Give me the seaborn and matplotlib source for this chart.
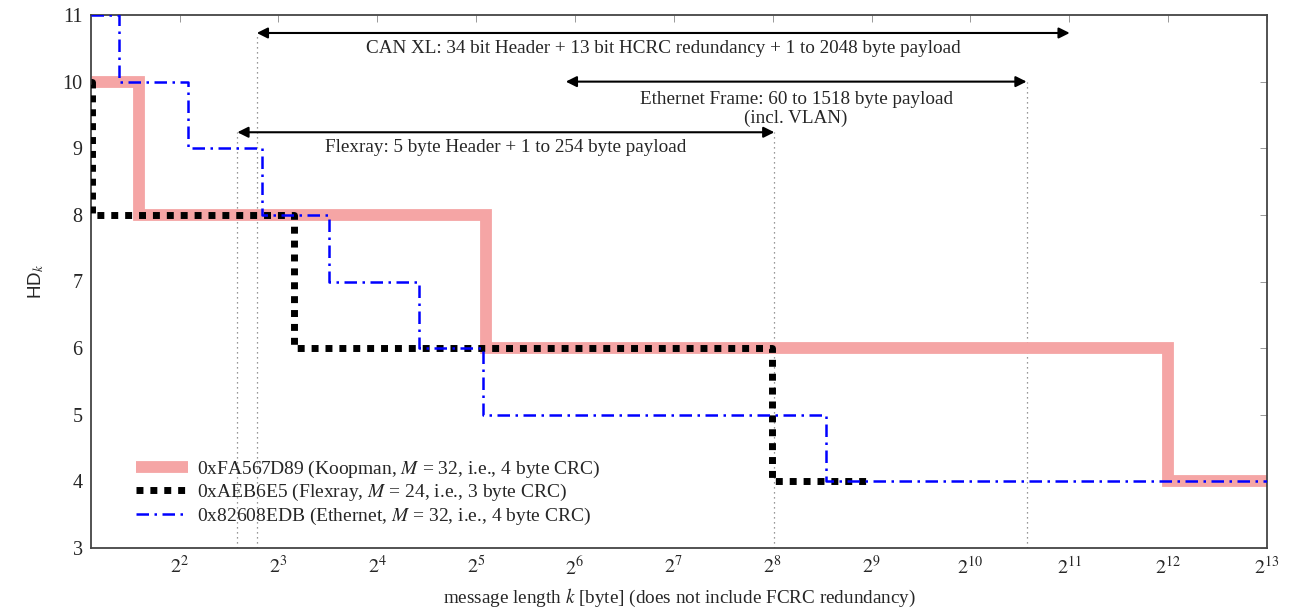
import numpy as np
import pandas as pd
import matplotlib
matplotlib.use("Agg")
import matplotlib.pyplot as plt
import seaborn as sns

# ---------------- data (message length k in bytes, HD) ----------------
koop_k = [2.15, 3.0, 34.25, 4092.0, 8192.0]
koop_hd = [10, 8, 6, 4, 4]

flex_k = [2.15, 2.17, 8.9, 255.0, 500.0]
flex_hd = [10, 8, 6, 4, 4]

eth_k = [2.15, 2.625, 4.25, 7.125, 11.375, 21.375, 33.5, 371.75, 8192.0]
eth_hd = [11, 10, 9, 8, 7, 6, 5, 4, 4]

labels = [
    r"0xFA567D89 (Koopman, $M$ = 32, i.e., 4 byte CRC)",
    r"0xAEB6E5 (Flexray, $M$ = 24, i.e., 3 byte CRC)",
    r"0x82608EDB (Ethernet, $M$ = 32, i.e., 4 byte CRC)",
]

# protocol payload ranges (bytes)
range_names = ["CAN XL: 34 bit Header + 13 bit HCRC redundancy + 1 to 2048 byte payload",
               "Ethernet Frame: 60 to 1518 byte payload\n(incl. VLAN)",
               "Flexray: 5 byte Header + 1 to 254 byte payload"]
range_lo = [6.875, 60.0, 6.0]
range_hi = [2053.875, 1518.0, 259.0]
range_level = [10.73, 10.0, 9.24]

x_tick_exp = list(range(2, 14))
y_ticks = list(range(3, 12))

# ---------------- style ----------------
sns.set_style("white")
plt.rcParams["font.family"] = ["Liberation Serif", "DejaVu Serif"]
plt.rcParams["mathtext.fontset"] = "stix"

fig = plt.figure(figsize=(12.9, 6.07), dpi=100)
ax = fig.add_axes([91 / 1290, 1 - 548 / 607, (1267 - 91) / 1290, (548 - 15) / 607])

xmin, xmax = 2.15, 8192.0

df_k = pd.DataFrame({"k": koop_k, "hd": koop_hd})
df_f = pd.DataFrame({"k": flex_k, "hd": flex_hd})
df_e = pd.DataFrame({"k": eth_k, "hd": eth_hd})

sns.lineplot(data=df_k, x="k", y="hd", ax=ax, estimator=None, sort=False,
             drawstyle="steps-post", color="#f5a5a5", lw=8.5,
             solid_joinstyle="miter", solid_capstyle="butt", label=labels[0], zorder=2)
sns.lineplot(data=df_f, x="k", y="hd", ax=ax, estimator=None, sort=False,
             drawstyle="steps-post", color="black", lw=5, dashes=(1, 1),
             label=labels[1], zorder=3)
sns.lineplot(data=df_e, x="k", y="hd", ax=ax, estimator=None, sort=False,
             drawstyle="steps-post", color="#0000ff", lw=1.8, dashes=(5, 2.2, 1, 2.2),
             label=labels[2], zorder=4)

ax.set_xscale("log", base=2)
ax.set_xlim(xmin, xmax)
ax.set_ylim(3, 11)

ax.set_xticks([2.0 ** e for e in x_tick_exp])
ax.set_xticklabels([rf"$2^{{{e}}}$" for e in x_tick_exp])
ax.xaxis.set_minor_locator(matplotlib.ticker.NullLocator())
ax.set_yticks(y_ticks)
ax.set_yticklabels([str(v) for v in y_ticks])

ax.tick_params(axis="both", which="both", direction="in", length=5, width=0.6,
               top=True, right=True, labelsize=14.5, color="#888888", pad=6)
for s in ax.spines.values():
    s.set_color("#444444")
    s.set_linewidth(1.3)

ax.set_xlabel(r"message length $k$ [byte] (does not include FCRC redundancy)", fontsize=13.8, labelpad=5)
ax.set_ylabel(r"HD$_k$", fontsize=13.5, family=["Liberation Sans", "DejaVu Sans"], labelpad=12)

# dotted vertical guide lines
guide_x = [range_lo[0], range_lo[2], range_hi[2], range_hi[1]]
guide_top = [range_level[0], range_level[2], range_level[2], range_level[1]]
ax.vlines(guide_x, 3, guide_top, colors="#777777", linestyles=(0, (1, 3)), lw=0.9, zorder=1)

# range arrows + texts
text_off = [0.1, 0.14, 0.1]
for name, lo, hi, lev, off in zip(range_names, range_lo, range_hi, range_level, text_off):
    ax.annotate("", xy=(lo, lev), xytext=(hi, lev),
                arrowprops=dict(arrowstyle="<|-|>", color="black", lw=1.5,
                                mutation_scale=16, shrinkA=0, shrinkB=0), zorder=5)
    xm = np.sqrt(lo * hi)
    ax.text(xm, lev - off, name, ha="center", va="top", fontsize=13.8,
            linespacing=1.1, zorder=5)

leg = ax.legend(loc="lower left", bbox_to_anchor=(0.038, 0.04), frameon=False,
                fontsize=14, handlelength=2.7, handletextpad=0.45, labelspacing=0.12,
                borderpad=0, borderaxespad=0)

fig.savefig("out.png", dpi=100)
